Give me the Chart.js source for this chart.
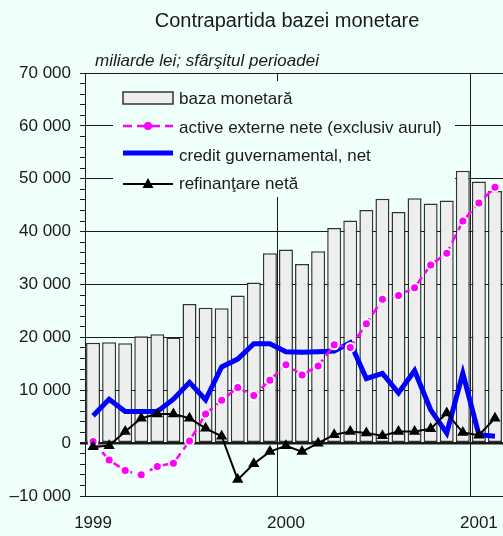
<!DOCTYPE html>
<html>
<head>
<meta charset="utf-8">
<title>Contrapartida bazei monetare</title>
<script src="https://cdn.jsdelivr.net/npm/chart.js@4.4.1/dist/chart.umd.min.js"></script>
<style>
  html, body { margin: 0; padding: 0; background: #effffa; overflow: hidden; }
  #wrap { position: relative; width: 503px; height: 536px; }
</style>
</head>
<body>
<div id="wrap"><canvas id="chart" width="503" height="536"></canvas></div>
<script>
// luni, sfarsitul perioadei
const months = [
  '1999-01', '1999-02', '1999-03', '1999-04', '1999-05', '1999-06',
  '1999-07', '1999-08', '1999-09', '1999-10', '1999-11', '1999-12',
  '2000-01', '2000-02', '2000-03', '2000-04', '2000-05', '2000-06',
  '2000-07', '2000-08', '2000-09', '2000-10', '2000-11', '2000-12',
  '2001-01', '2001-02'
];
const yearTicks = { '1999-01': '1999', '2000-01': '2000', '2001-01': '2001' };

const bazaMonetara = [
  19000, 19100, 18900, 20200, 20600, 20000, 26300, 25600, 25500, 27900, 30400, 35900,
  36600, 33900, 36300, 40700, 42100, 44100, 46200, 43700, 46300, 45300, 45900, 51500,
  49500, 47700
];
const activeExterne = [
  300, -3200, -5200, -6000, -4400, -3800, 400, 5500, 8100, 10500, 9000, 11900,
  14800, 12900, 14600, 18600, 18100, 22600, 27200, 27900, 29400, 33700, 35900, 42000,
  45400, 48400
];
const creditGuv = [
  5200, 8300, 6000, 6000, 6000, 8300, 11500, 8200, 14400, 15900, 18800, 18800,
  17300, 17200, 17300, 17400, 19000, 12200, 13200, 9500, 13700, 6300, 1900, 13200,
  1600, 1300
];
const refinantare = [
  -700, -500, 2200, 4700, 5500, 5500, 4700, 2800, 1300, -6900, -3900, -1600,
  -500, -1600, 0, 1600, 2200, 1900, 1400, 2200, 2200, 2700, 5700, 2000,
  1500, 4700
];

const BG = '#effffa';
const FONT = "'Liberation Sans', Arial, Helvetica, sans-serif";
const INK = '#1a1a1a';

function fmtThousands(v) {
  const s = String(Math.abs(v)).replace(/\B(?=(\d{3})+(?!\d))/g, ' ');
  return v < 0 ? '\u2013' + s : s;
}

const overlay = {
  id: 'overlay',
  afterDatasetsDraw(chart) {
    const ctx = chart.ctx;
    ctx.save();
    // fundal legenda (acopera liniile de grila)
    ctx.fillStyle = BG;
    ctx.fillRect(113, 81, 342, 116);

    const x0 = 123, x1 = 173, tx = 179;
    ctx.font = '17px ' + FONT;
    ctx.fillStyle = INK;
    ctx.textBaseline = 'middle';
    ctx.textAlign = 'left';

    // baza monetara
    ctx.fillStyle = '#eeeeee';
    ctx.fillRect(x0, 92, x1 - x0, 12);
    ctx.strokeStyle = '#333';
    ctx.lineWidth = 1.5;
    ctx.strokeRect(x0, 92, x1 - x0, 12);
    ctx.fillStyle = INK;
    ctx.fillText('baza monetar\u0103', tx, 99);

    // active externe nete
    ctx.strokeStyle = '#ff00ff';
    ctx.lineWidth = 2.5;
    ctx.setLineDash([9, 5]);
    ctx.beginPath(); ctx.moveTo(x0, 126); ctx.lineTo(x1, 126); ctx.stroke();
    ctx.setLineDash([]);
    ctx.fillStyle = '#ff00ff';
    ctx.beginPath(); ctx.arc((x0 + x1) / 2, 126, 4, 0, Math.PI * 2); ctx.fill();
    ctx.fillStyle = INK;
    ctx.fillText('active externe nete (exclusiv aurul)', tx, 128);

    // credit guvernamental
    ctx.strokeStyle = '#0000ff';
    ctx.lineWidth = 5;
    ctx.beginPath(); ctx.moveTo(x0, 153); ctx.lineTo(x1, 153); ctx.stroke();
    ctx.fillText('credit guvernamental, net', tx, 156);

    // refinantare neta
    ctx.strokeStyle = '#000';
    ctx.lineWidth = 2;
    ctx.beginPath(); ctx.moveTo(x0, 184); ctx.lineTo(x1, 184); ctx.stroke();
    const cx = (x0 + x1) / 2;
    ctx.fillStyle = '#000';
    ctx.beginPath();
    ctx.moveTo(cx, 178); ctx.lineTo(cx + 5.5, 188); ctx.lineTo(cx - 5.5, 188);
    ctx.closePath(); ctx.fill();
    ctx.fillStyle = INK;
    ctx.fillText('refinan\u0163are net\u0103', tx, 184);

    // titlu si subtitlu
    ctx.textAlign = 'center';
    ctx.font = '20px ' + FONT;
    ctx.fillText('Contrapartida bazei monetare', 287, 21);
    ctx.textAlign = 'left';
    ctx.font = 'italic 17px ' + FONT;
    ctx.fillText('miliarde lei; sf\u00e2r\u015fitul perioadei', 95, 61);
    ctx.restore();
  }
};

new Chart(document.getElementById('chart'), {
  data: {
    labels: months,
    datasets: [
      {
        type: 'line',
        label: 'refinan\u0163are net\u0103',
        data: refinantare,
        borderColor: '#000',
        borderWidth: 2,
        pointStyle: 'triangle',
        pointRadius: 6.5,
        pointBackgroundColor: '#000',
        pointBorderColor: '#000',
        pointBorderWidth: 0,
        order: 1
      },
      {
        type: 'line',
        label: 'active externe nete (exclusiv aurul)',
        data: activeExterne,
        borderColor: '#ff00ff',
        borderWidth: 2.5,
        borderDash: [9, 5],
        pointRadius: 4.5,
        pointBackgroundColor: '#ff00ff',
        pointBorderColor: '#ffffff',
        pointBorderWidth: 2,
        order: 2
      },
      {
        type: 'line',
        label: 'credit guvernamental, net',
        data: creditGuv,
        borderColor: '#0000ff',
        borderWidth: 5,
        pointRadius: 0,
        order: 3
      },
      {
        type: 'bar',
        label: 'baza monetar\u0103',
        data: bazaMonetara,
        backgroundColor: '#eeeeee',
        borderColor: '#333',
        borderWidth: 1.5,
        borderSkipped: false,
        barPercentage: 0.87,
        categoryPercentage: 1,
        order: 4
      }
    ]
  },
  options: {
    responsive: false,
    animation: false,
    layout: { autoPadding: false, padding: { top: 73, left: 0, right: 0, bottom: 0 } },
    plugins: {
      legend: { display: false },
      title: { display: false },
      tooltip: { enabled: false }
    },
    scales: {
      x: {
        type: 'category',
        offset: true,
        afterFit(scale) {
          scale.height = 40;
          scale.paddingLeft = 0;
          scale.paddingRight = 0;
        },
        grid: {
          offset: true,
          drawTicks: false,
          color: c => (c.index === 12 || c.index === 24) ? INK : 'transparent'
        },
        border: { display: true, color: INK, width: 1 },
        ticks: {
          autoSkip: false,
          maxRotation: 0,
          padding: 17,
          color: INK,
          font: { family: FONT, size: 17 },
          callback: (val, i) => yearTicks[months[i]] || ''
        }
      },
      y: {
        min: -10000,
        max: 70000,
        afterFit(scale) { scale.width = 85; },
        grid: {
          color: c => (c.tick.value % 10000 === 0) ? INK : 'transparent',
          lineWidth: c => c.tick.value === 0 ? 2.5 : 1,
          tickColor: INK,
          tickLength: 5
        },
        border: { display: true, color: INK, width: 1 },
        ticks: {
          stepSize: 2000,
          autoSkip: false,
          padding: 9,
          color: INK,
          font: { family: FONT, size: 17 },
          callback: v => (v % 10000 === 0) ? fmtThousands(v) : ''
        }
      }
    }
  },
  plugins: [overlay]
});
</script>
</body>
</html>
